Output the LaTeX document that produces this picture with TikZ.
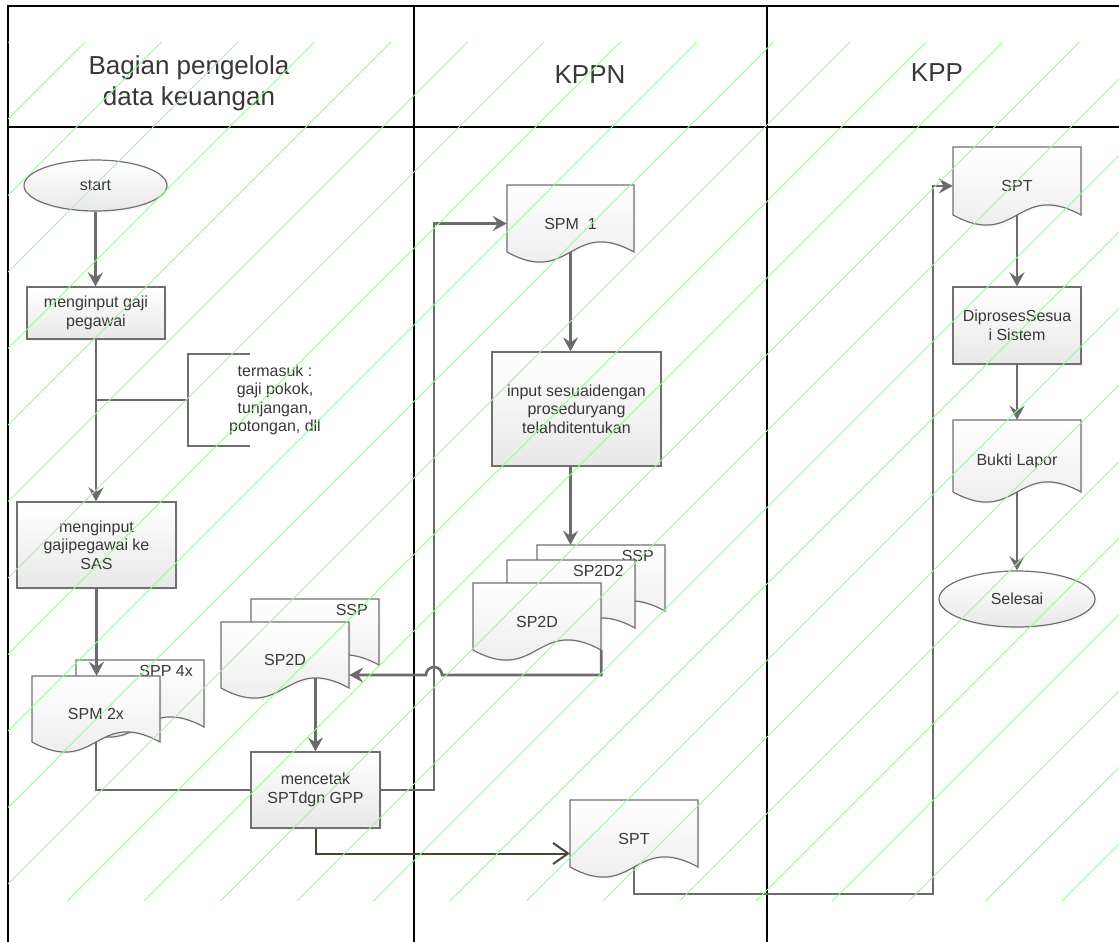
\documentclass[tikz,border=0pt]{standalone}
\usepackage{fontspec}
\setmainfont{Liberation Sans}
\usetikzlibrary{arrows.meta,shapes.geometric,shadows,calc}
\definecolor{lineg}{HTML}{6B6B6B}
\definecolor{bordg}{HTML}{707070}
\definecolor{txt}{HTML}{383838}
\definecolor{hatchg}{HTML}{A2F4A2}
\definecolor{olivec}{HTML}{4A4535}
\definecolor{fillb}{HTML}{E8E8E8}
\tikzset{
  base/.style={font=\fontsize{16}{18.5}\selectfont, text=txt, align=center},
  boxfill/.style={top color=white, bottom color=fillb, drop shadow={shadow xshift=2pt, shadow yshift=-2pt, opacity=0.07}},
  proc/.style={base, draw=bordg, line width=1.2pt, boxfill, inner sep=2pt},
  term/.style={proc, ellipse},
  docshape/.style={draw=bordg, line width=1.2pt, boxfill},
  arr/.style={draw=lineg, line width=2.6pt, -{Stealth[length=14pt,width=15pt,inset=5pt]}},
  conn/.style={draw=lineg, line width=2.4pt},
  oarr/.style={draw=olivec, line width=2pt, -{Straight Barb[length=15pt,width=21pt]}},
  frame/.style={draw=black, line width=2pt},
  hdr/.style={font=\fontsize{26}{31}\selectfont, text=txt, align=center},
  hatchline/.style={draw=hatchg, line width=0.8pt},
  bracket/.style={draw=bordg, line width=1.6pt},
}
\newcommand\docnode[6]{%
  \path[docshape] (#2,#3) -- (#2+#4,#3) -- (#2+#4,#3+#5) .. controls (#2+0.5*#4,#3+#5-35) and (#2+0.5*#4,#3+#5+35) .. (#2,#3+#5) -- cycle;
  \node[base, inner sep=0pt, minimum width=#4pt, minimum height=#5pt+10pt] (#1) at (#2+0.5*#4,#3+0.5*#5+5) {#6};
}
\newcommand\backdoc[6]{%
  \path[docshape] (#2,#3) -- (#2+#4,#3) -- (#2+#4,#3+#5) .. controls (#2+0.5*#4,#3+#5-35) and (#2+0.5*#4,#3+#5+35) .. (#2,#3+#5) -- cycle;
  \node[inner sep=0pt, minimum width=#4pt, minimum height=#5pt+10pt] (#1) at (#2+0.5*#4,#3+0.5*#5+5) {};
  \node[base, inner sep=0pt, anchor=east] (#1-l) at (#2+#4-11,#3+11) {#6};
}
\begin{document}
\begin{tikzpicture}[x=1pt,y=-1pt]
\useasboundingbox (0,0) rectangle (1119,942);
% frame
\draw[frame] (8,942) -- (8,6) -- (1119,6);
\draw[frame] (8,127) -- (1119,127);
\draw[frame] (414,6) -- (414,942);
\draw[frame] (767,6) -- (767,942);
% headers
\node[hdr] (h1) at (189,83) {Bagian pengelola\\data keuangan};
\node[hdr] (h2) at (590,75) {KPPN};
\node[hdr] (h3) at (937,73) {KPP};
% lane 1
\node[term, minimum width=143pt, minimum height=51pt] (start) at (95.5,185.5) {start};
\node[proc, minimum width=138pt, minimum height=52pt] (box1) at (96,313) {menginput gaji\\pegawai};
\node[base, minimum width=174pt, minimum height=92pt, inner sep=0pt] (note) at (275,400) {termasuk :\\gaji pokok,\\tunjangan,\\potongan, dll};
\node[proc, minimum width=159pt, minimum height=86pt] (sas) at (96.5,545) {menginput\\gajipegawai ke\\SAS};
\backdoc{spp}{76}{660}{128}{67}{SPP 4x}
\docnode{spm2}{32}{676}{128}{66}{SPM 2x}
\backdoc{sspL}{251}{599}{128}{66}{SSP}
\docnode{sp2dL}{221}{622}{128}{66}{SP2D}
\node[proc, minimum width=129pt, minimum height=76pt] (mencetak) at (315.5,790) {mencetak\\SPTdgn GPP};
% lane 2
\docnode{spm1}{507}{185}{127}{67}{SPM\ \ 1}
\node[proc, minimum width=169pt, minimum height=114pt] (input) at (576.5,409) {input sesuaidengan\\proseduryang\\telahditentukan};
\backdoc{sspK}{537}{545}{128}{66}{SSP}
\backdoc{sp2d2}{507}{560}{128}{68}{SP2D2}
\docnode{sp2dK}{473}{583}{128}{67}{SP2D}
\docnode{spt1}{570}{800}{128}{67}{SPT}
% lane 3
\docnode{sptK}{953}{147}{128}{68}{SPT}
\node[proc, minimum width=128pt, minimum height=77pt] (dip) at (1017,325.5) {DiprosesSesua\\i Sistem};
\docnode{bukti}{953}{420}{128}{72}{Bukti Lapor}
\node[term, minimum width=156pt, minimum height=56pt] (selesai) at (1017,599) {Selesai};
% helper coordinates
\coordinate (j1) at (434,0);
\coordinate (j2) at (933,894);
\coordinate (w1) at ($(sp2dL.south)+(0,-20)$);
\coordinate (spm1b) at ($(spm1.south)+(0,-10)$);
\coordinate (kb) at ($(sp2dK.south east)+(0,-10)$);
\coordinate (p1) at ($(sp2dL.east)+(0,15)$);
\coordinate (br) at ($(j1 |- p1)+(8,0)$);
% connectors
\draw[arr] (start.south) -- (start.south |- box1.north);
\draw[arr] (box1.south) -- (box1.south |- sas.north);
\draw[bracket] ($(note.north west)+(62,0)$) -- (note.north west) -- (note.south west) -- ($(note.south west)+(62,0)$);
\draw[conn, line width=2pt] (note.west) -- (note.west -| box1.south);
\draw[arr] (sas.south) -- (sas.south |- spm2.north);
\draw[conn] ($(spm2.south)+(0,-10)$) |- (mencetak.west);
\draw[arr] (mencetak.north |- w1) -- (mencetak.north);
\draw[arr] (mencetak.east) -- (mencetak.east -| j1) |- (spm1.west);
\draw[arr] (spm1b) -- (spm1b |- input.north);
\draw[arr] (input.south -| spm1b) -- (sspK.north -| spm1b);
\draw[arr] (kb) |- (br) arc[start angle=0,end angle=180,radius=8pt] -- (p1);
\draw[oarr] (mencetak.south) |- ($(spt1.west)+(0,15)$);
\draw[arr] ($(spt1.south)+(0,-10)$) |- (j2) |- (sptK.west);
\draw[arr] ($(sptK.south)+(0,-10)$) -- (dip.north);
\draw[arr] (dip.south) -- (bukti.north);
\draw[arr] ($(bukti.south)+(0,-10)$) -- (selesai.north);
% hatch
\begin{scope}
\clip (8,42) rectangle (1119,900);
\foreach \k in {-1,...,26} { \draw[hatchline] (85+76.5*\k,42) -- ++(-900,900); }
\end{scope}
\end{tikzpicture}
\end{document}
